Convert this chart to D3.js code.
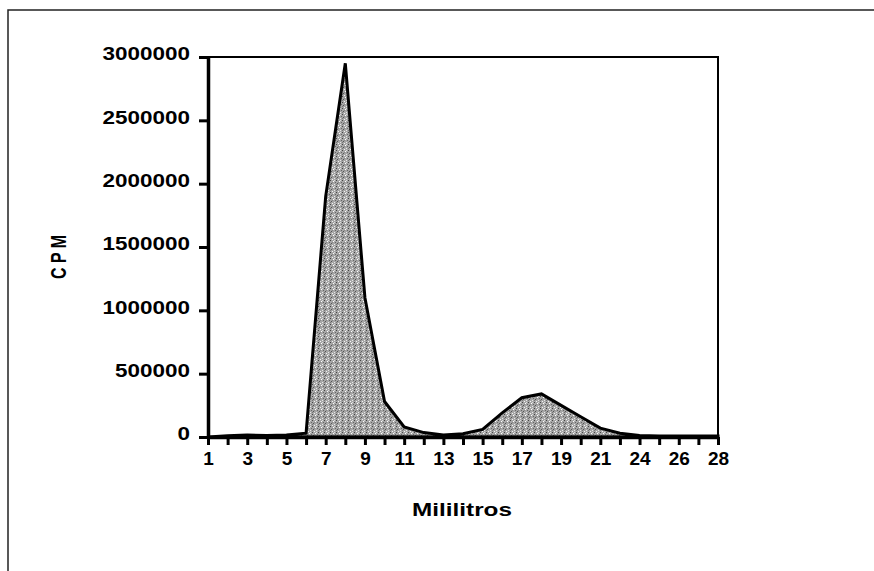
<!DOCTYPE html>
<html>
<head>
<meta charset="utf-8">
<script src="https://cdn.jsdelivr.net/npm/d3@7"></script>
<style>
  body { margin: 0; background: #fff; }
  svg { display: block; font-family: "Liberation Sans", Arial, sans-serif; }
</style>
</head>
<body>
<div id="chart"></div>
<script>
// fractions (ml) collected and counts per minute
var fracciones = ["1","2","3","4","5","6","7","8","9","10","11","12","13","14","15","16","17","18","19","20","21","22","24","25","26","27","28"];
var cpm = [0, 10000, 15000, 12000, 15000, 30000, 1900000, 2950000, 1100000, 280000, 80000, 35000, 15000, 25000, 60000, 190000, 310000, 340000, 250000, 160000, 70000, 30000, 12000, 8000, 8000, 8000, 8000];
var yTicks = [0, 500000, 1000000, 1500000, 2000000, 2500000, 3000000];

var width = 874, height = 571;
var plotLeft = 208, plotRight = 718, plotTop = 57, plotBottom = 437;

var svg = d3.select('#chart').append('svg')
  .attr('width', width)
  .attr('height', height);

// speckled grey fill like the printed original
var defs = svg.append('defs');
var pat = defs.append('pattern')
  .attr('id', 'moteado')
  .attr('width', 6).attr('height', 6)
  .attr('patternUnits', 'userSpaceOnUse');
pat.append('rect').attr('width', 6).attr('height', 6).attr('fill', '#a6a6a6');
[[0,0,'#444'],[3,1,'#fff'],[1,3,'#555'],[4,4,'#e8e8e8'],[5,2,'#666'],[2,5,'#f4f4f4'],[0,4,'#777'],[4,0,'#ddd'],[2,2,'#888']]
  .forEach(function(p) {
    pat.append('rect').attr('x', p[0]).attr('y', p[1])
      .attr('width', 1).attr('height', 1).attr('fill', p[2]);
  });

// outer frame of the figure
svg.append('path')
  .attr('d', 'M8,571V10H874')
  .attr('fill', 'none')
  .attr('stroke', '#222')
  .attr('stroke-width', 1.5);

var x = d3.scalePoint().domain(fracciones).range([plotLeft, plotRight]);
var y = d3.scaleLinear().domain([0, 3000000]).range([plotBottom, plotTop]);

var data = fracciones.map(function(f, i) { return {f: f, v: cpm[i]}; });

var area = d3.area()
  .x(function(d) { return x(d.f); })
  .y0(y(0))
  .y1(function(d) { return y(d.v); });

svg.append('path')
  .datum(data)
  .attr('d', area)
  .attr('fill', 'url(#moteado)')
  .attr('stroke', '#000')
  .attr('stroke-width', 3)
  .attr('stroke-linejoin', 'miter');

// plot area border (top, right)
svg.append('path')
  .attr('d', 'M' + plotLeft + ',' + plotTop + 'H' + plotRight + 'V' + plotBottom)
  .attr('fill', 'none')
  .attr('stroke', '#000')
  .attr('stroke-width', 2);

var yAxis = svg.append('g')
  .attr('transform', 'translate(' + plotLeft + ',0)')
  .call(d3.axisLeft(y).tickValues(yTicks).tickSize(9).tickSizeOuter(0).tickPadding(9)
    .tickFormat(d3.format('d')));

yAxis.selectAll('text')
  .attr('dy', '0.15em')
  .style('font-size', '19px')
  .style('font-weight', 'bold')
  .attr('fill', '#000')
  .attr('textLength', function() { return this.textContent.length * 12.5; })
  .attr('lengthAdjust', 'spacingAndGlyphs');

var xAxis = svg.append('g')
  .attr('transform', 'translate(0,' + plotBottom + ')')
  .call(d3.axisBottom(x).tickSize(8).tickSizeOuter(0).tickPadding(7)
    .tickFormat(function(d, i) { return i % 2 === 0 ? d : ''; }));

xAxis.selectAll('text')
  .style('font-size', '19px')
  .style('font-weight', 'bold')
  .attr('fill', '#000');

svg.selectAll('.domain').attr('stroke', '#000').attr('stroke-width', 3.5);
svg.selectAll('.tick line').attr('stroke', '#000').attr('stroke-width', 3);

// axis titles
svg.append('text')
  .attr('transform', 'translate(58,257) scale(1.4,1) rotate(-90)')
  .attr('text-anchor', 'middle')
  .attr('dy', '0.35em')
  .style('font-size', '16px')
  .style('font-weight', 'bold')
  .text('C P M');

svg.append('text')
  .attr('x', 462)
  .attr('y', 516)
  .attr('text-anchor', 'middle')
  .style('font-size', '18px')
  .style('font-weight', 'bold')
  .attr('textLength', 100)
  .attr('lengthAdjust', 'spacingAndGlyphs')
  .text('Mililitros');
</script>
</body>
</html>
